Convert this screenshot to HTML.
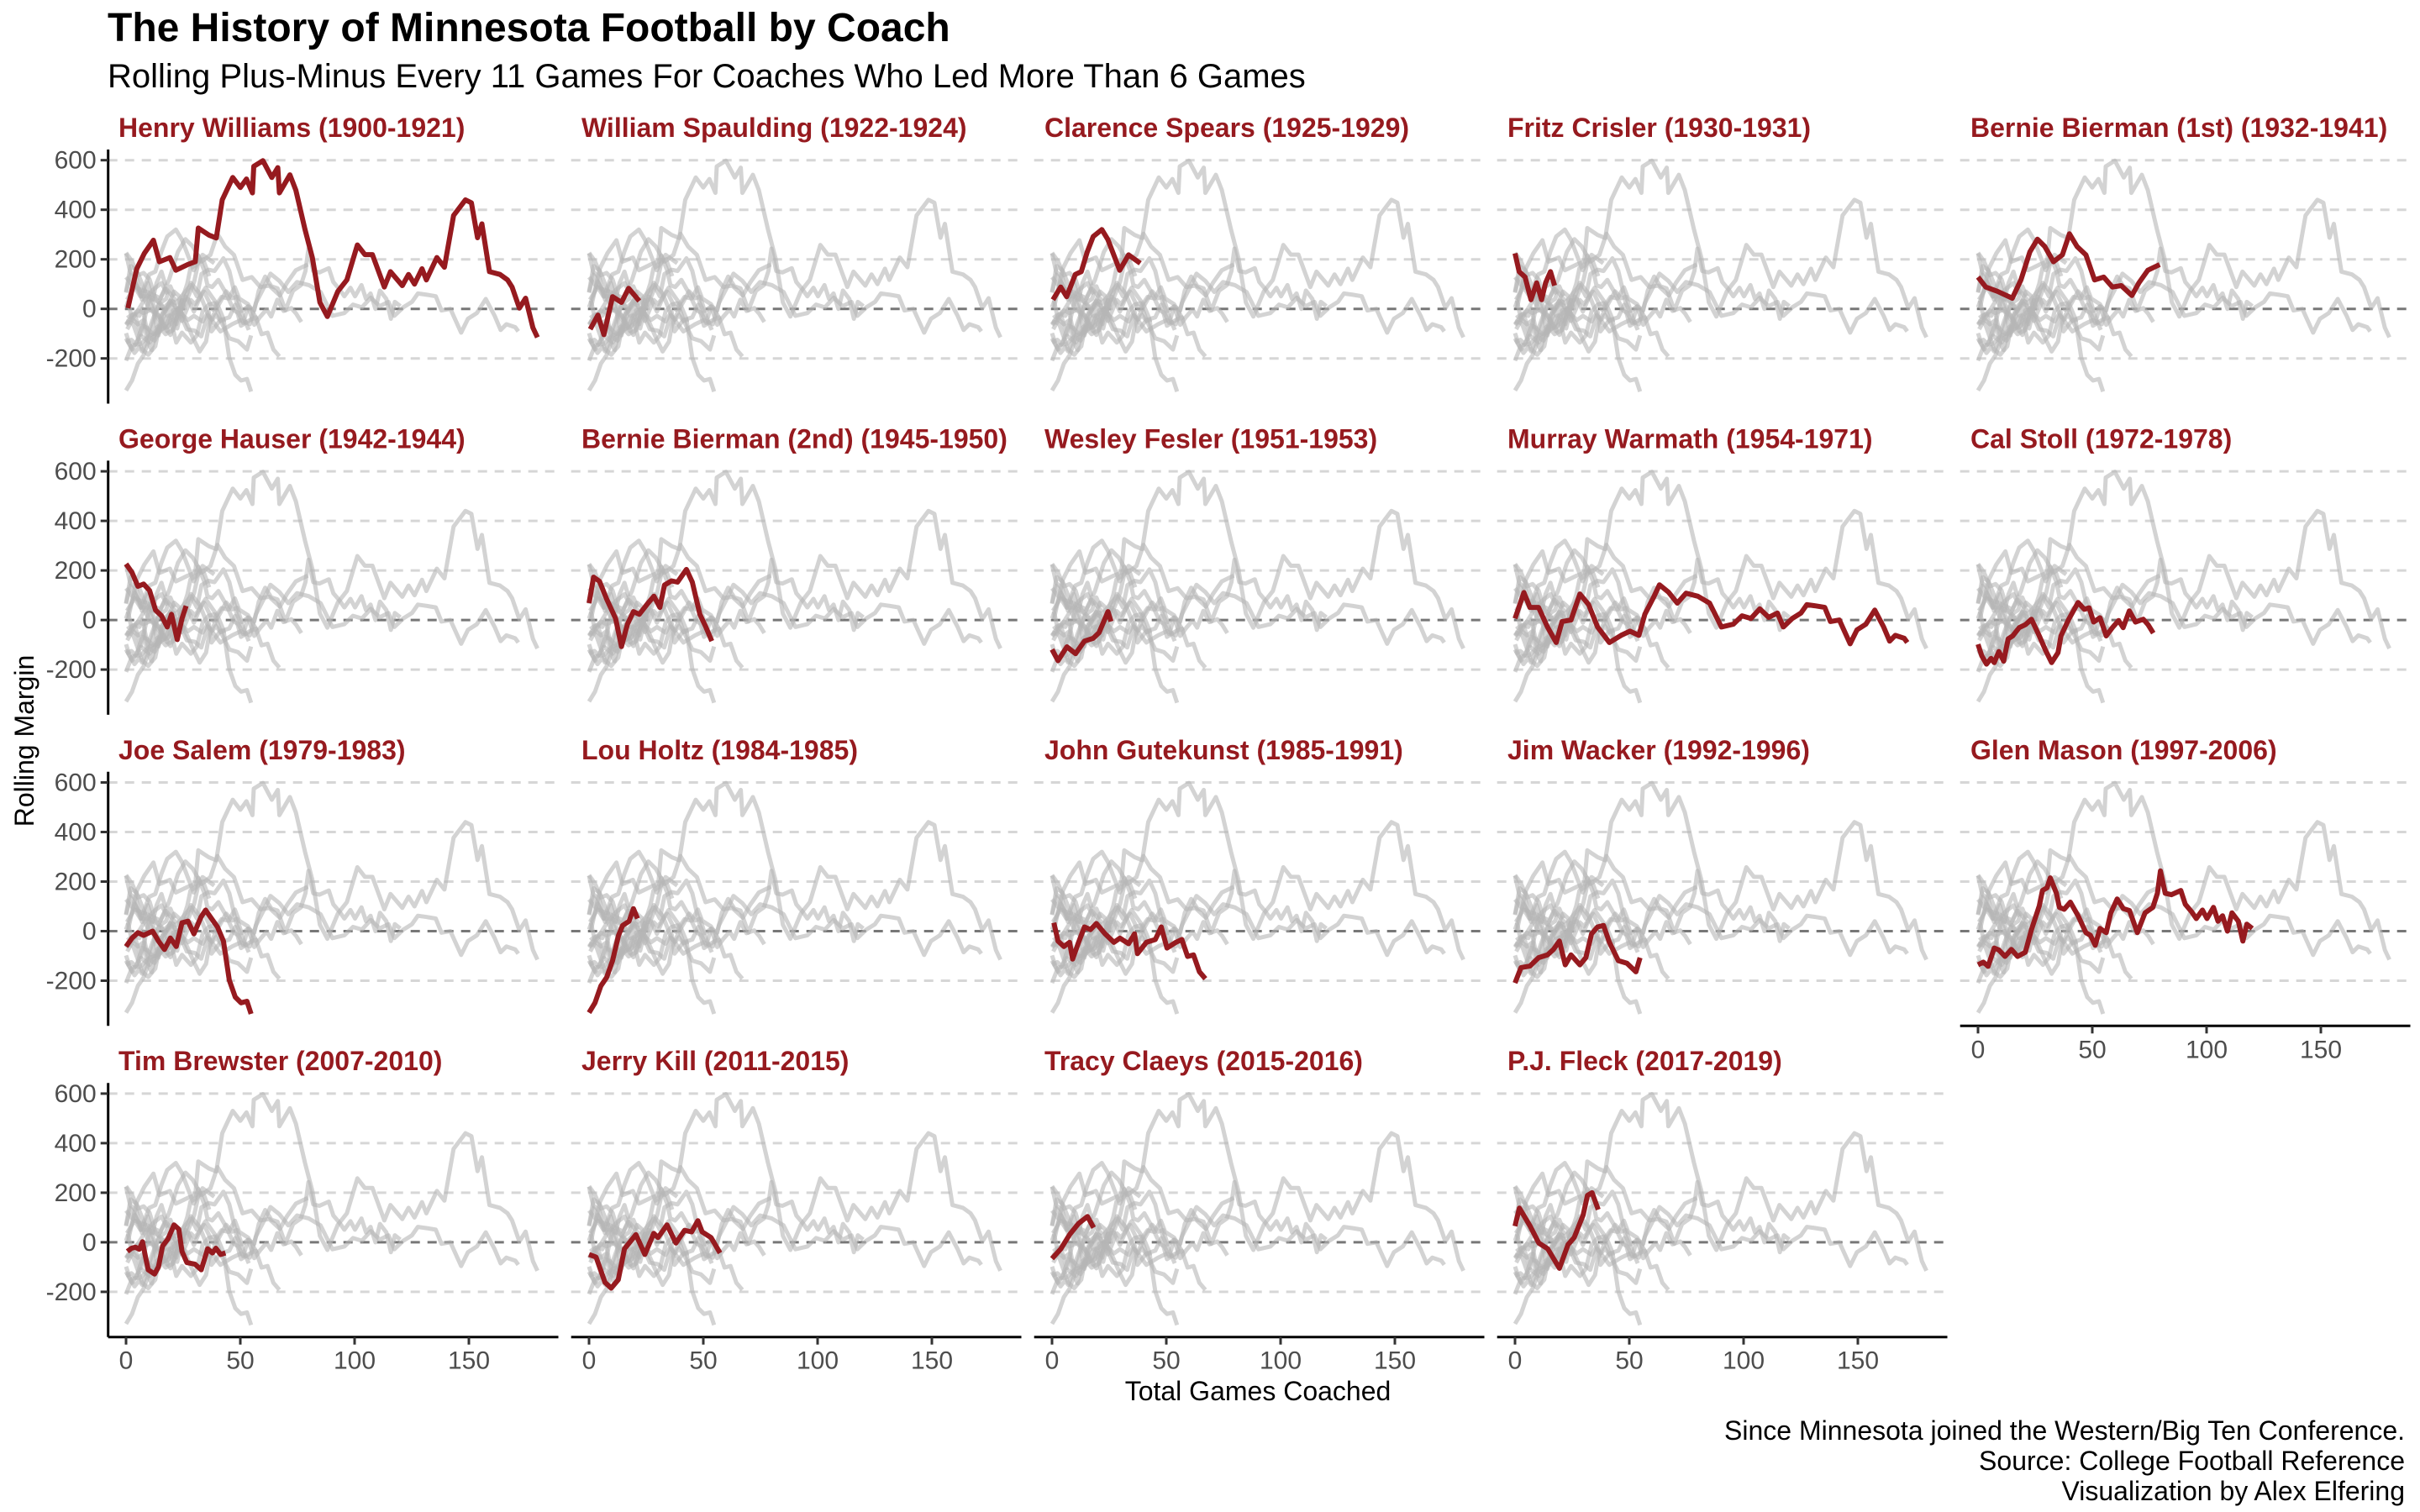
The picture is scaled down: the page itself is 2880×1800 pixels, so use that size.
<!DOCTYPE html>
<html><head><meta charset="utf-8"><title>The History of Minnesota Football by Coach</title>
<style>
html,body{margin:0;padding:0;background:#fff;}
svg{display:block;font-family:"Liberation Sans",Arial,sans-serif;}
</style></head>
<body>
<svg id="chart" width="2880" height="1800" viewBox="0 0 2880 1800" xmlns="http://www.w3.org/2000/svg">
<text x="128" y="49" font-size="48" font-weight="bold" fill="#000">The History of Minnesota Football by Coach</text>
<text x="128" y="104" font-size="40" fill="#000">Rolling Plus-Minus Every 11 Games For Coaches Who Led More Than 6 Games</text>
<text transform="translate(40,882) rotate(-90)" text-anchor="middle" font-size="32" fill="#000">Rolling Margin</text>
<text x="1497" y="1667" text-anchor="middle" font-size="32" fill="#000">Total Games Coached</text>
<text x="2862" y="1714" text-anchor="end" font-size="32" fill="#000">Since Minnesota joined the Western/Big Ten Conference.</text>
<text x="2862" y="1750" text-anchor="end" font-size="32" fill="#000">Source: College Football Reference</text>
<text x="2862" y="1786" text-anchor="end" font-size="32" fill="#000">Visualization by Alex Elfering</text>
<g id="panels"></g>
</svg>
<script>
const coachLabels = ["Henry Williams (1900-1921)","William Spaulding (1922-1924)","Clarence Spears (1925-1929)","Fritz Crisler (1930-1931)","Bernie Bierman (1st) (1932-1941)","George Hauser (1942-1944)","Bernie Bierman (2nd) (1945-1950)","Wesley Fesler (1951-1953)","Murray Warmath (1954-1971)","Cal Stoll (1972-1978)","Joe Salem (1979-1983)","Lou Holtz (1984-1985)","John Gutekunst (1985-1991)","Jim Wacker (1992-1996)","Glen Mason (1997-2006)","Tim Brewster (2007-2010)","Jerry Kill (2011-2015)","Tracy Claeys (2015-2016)","P.J. Fleck (2017-2019)"];

const williamsGames = [0.8,4.7,8,12,14.6,19.2,21.8,27,30.3,31.6,36.2,39.5,42.1,46.7,50,52.7,55.3,55.9,59.9,63.8,66.4,67.1,71.7,74.3,78.3,81.5,84.8,88.1,92.7,96.6,101.2,104.5,107.8,113,115.7,120.9,123.6,126.2,129.5,131.4,136,139.3,143.3,148.5,151.1,153.8,155.7,159,163.6,166.9,168.9,172.1,174.8,178,180];
const williamsMargin = [3,162,224,277,190,207,156,179,190,326,298,286,440,530,490,524,468,575,598,530,570,468,541,479,320,207,26,-31,71,117,258,219,219,88,150,94,139,100,162,117,207,168,377,440,428,287,343,150,139,117,88,3,43,-76,-115];
const spauldingGames = [0.5,3.9,6.5,10.3,14.2,17.3,22];
const spauldingMargin = [-82,-25,-104,49,26,83,32];
const spearsGames = [0.4,3.8,6.4,10.2,12.8,15.4,18,21.8,24.4,29.6,33.5,38.6];
const spearsMargin = [37,88,49,139,150,230,292,320,280,156,218,184];
const crislerGames = [0,1.8,4.4,7,9.5,11.6,13.4,15.5,17.3];
const crislerMargin = [224,150,128,37,105,37,105,150,94];
const bierman1Games = [0,3.4,8.5,15,18.8,22.7,26,29.2,33,36.9,40,43.3,47.2,51,55,58.8,62.7,67.3,70.4,74.3,79.5];
const bierman1Margin = [128,88,71,43,117,230,281,252,190,218,303,252,218,117,128,88,94,54,105,156,179];
const hauserGames = [0,2.6,5.2,7.7,10.3,12.9,15.5,18,19.9,22.4,24.5,26.3];
const hauserMargin = [226,192,136,145,119,40,17,-28,23,-79,6,57];
const bierman2Games = [0,2,4.6,7.7,11.6,14.2,16.8,19.4,22,25.8,28.4,31,33,36.1,38.7,42.6,45.2,48.5,51.1,53.7];
const bierman2Margin = [68,173,156,85,6,-107,-17,34,23,68,96,51,141,158,153,204,153,23,-28,-85];
const feslerGames = [0,2.6,6.5,10.3,14.2,18,20.6,24.5,25.8];
const feslerMargin = [-119,-164,-108,-136,-85,-74,-51,34,-6];
const warmathGames = [0,3.9,6.5,10.3,14.2,18,20.6,24.5,28.4,32.2,36.1,41.3,46.4,50.3,54.2,56.8,60.6,63.2,67.1,71,74.8,80,85.1,90.3,95.5,99.3,103.2,107.1,111,114.8,117.4,121.3,125.1,127.7,131.6,135.5,138,141.9,146.6,149.6,153.5,157.4,161.3,163.9,166.4,170.3,171.6];
const warmathMargin = [6,111,51,51,-28,-91,-6,0,105,62,-28,-91,-62,-45,-62,23,91,142,113,68,108,96,68,-28,-17,17,6,45,11,28,-28,6,28,62,57,51,-6,0,-96,-40,-17,40,-28,-85,-62,-74,-91];
const stollGames = [0,1.6,3.7,5.7,7.1,9.1,11.2,13.2,15.2,18,20.7,23.4,26.8,29.5,32.2,35,36.3,39.7,43.8,46.5,48.6,50.6,53.4,56.1,58.8,61.5,63.5,66.2,68.9,72.3,74.4,76.7];
const stollMargin = [-98,-144,-178,-155,-172,-127,-166,-76,-64,-31,-19,3,-64,-121,-172,-132,-64,3,71,43,49,-8,9,-64,-31,-2,-31,37,-8,3,-19,-53];
const salemGames = [0,2.6,5.2,7.7,11.6,14.2,16.8,19.4,22,24.5,27.1,29.7,32.8,34.8,37.4,40,42.6,45.2,47.8,50.3,52.9,54.7];
const salemMargin = [-62,-28,-6,-17,0,-40,-74,-28,-62,34,40,-11,57,85,51,17,-40,-198,-266,-289,-283,-334];
const holtzGames = [0,2.6,5.2,7.7,10.3,12.9,14.7,17.5,19.4,21.2];
const holtzMargin = [-329,-289,-221,-187,-119,-17,23,40,91,51];
const gutekunstGames = [0.8,2.6,5.2,7.7,9,11.6,14.2,16.8,19.4,23.2,27.1,29.7,33.5,36.1,37.4,41.3,45.2,47.8,50.3,54.2,56.8,59.3,61.9,64.5,67.1];
const gutekunstMargin = [34,-40,-62,-45,-113,-45,17,6,31,-11,-45,-28,-51,-11,-91,-45,-34,17,-68,-45,-34,-102,-96,-164,-192];
const wackerGames = [0,2.6,6.5,10.3,14.2,16.8,19.4,22,24.5,28.4,31,33.5,36.1,38.7,41.3,45.2,49,52.9,54.7];
const wackerMargin = [-209,-147,-141,-107,-96,-74,-40,-136,-96,-136,-107,-11,17,23,-45,-119,-130,-164,-107];
const masonGames = [0,2.3,4.4,7.1,9.1,11.8,14.6,17.3,20.7,23.4,26.8,28.2,30.2,31.6,34.3,35.6,37.7,40.4,43.8,47.2,49.2,51.3,53.4,56.1,58.1,60.9,63.6,66.3,69.7,73.1,76.5,78.5,79.8,81.9,84.6,88.7,90.7,93.4,95.5,98.2,100.2,103,105,107,109.1,111.1,113.9,115.9,117.6,120];
const masonMargin = [-136,-125,-142,-68,-76,-102,-74,-102,-85,6,102,164,175,215,153,96,88,117,62,-6,-17,-57,11,-6,74,130,91,83,-6,74,96,153,243,153,147,164,108,79,51,85,51,96,40,62,0,74,40,-40,28,11];
const brewsterGames = [0.6,2.4,4.1,5.8,7.2,8.3,9.7,12.5,14.2,16,18.4,21,23.1,24.5,26.6,30.1,32.9,35.7,37.8,39.3,41.4,43.5];
const brewsterMargin = [-37,-24,-20,-28,2,-49,-111,-128,-99,-15,14,70,53,-37,-82,-88,-111,-26,-43,-24,-49,-43];
const killGames = [0,3.1,7,9.7,12.8,15.5,20.5,24.4,28.3,30.2,34.1,38,41.8,44.9,47.6,49.5,53.4,57.3];
const killMargin = [-49,-60,-162,-185,-151,-26,31,-49,36,19,70,-3,48,42,87,42,19,-43];
const claeysGames = [0,3.9,7.7,11.6,15.5,18.2];
const claeysMargin = [-66,-26,31,76,104,59];
const fleckGames = [0,1.9,6.6,10.4,14.3,19.4,23.2,25.9,29.8,31.7,33.7,36.4];
const fleckMargin = [65,138,65,-3,-26,-105,-9,19,110,189,200,132];

const yTicks = [-200,0,200,400,600];
const xTicks = [0,50,100,150];

const allGames = [williamsGames,spauldingGames,spearsGames,crislerGames,bierman1Games,hauserGames,bierman2Games,feslerGames,warmathGames,stollGames,salemGames,holtzGames,gutekunstGames,wackerGames,masonGames,brewsterGames,killGames,claeysGames,fleckGames];
const allMargins = [williamsMargin,spauldingMargin,spearsMargin,crislerMargin,bierman1Margin,hauserMargin,bierman2Margin,feslerMargin,warmathMargin,stollMargin,salemMargin,holtzMargin,gutekunstMargin,wackerMargin,masonMargin,brewsterMargin,killMargin,claeysMargin,fleckMargin];

const NS = "http://www.w3.org/2000/svg";
const root = document.getElementById('panels');
const COL_STEP = 551, ROW_STEP = 370.4;
function xScale(g, col){ return 150 + COL_STEP*col + g*2.72; }
function yScale(v, row){ return 367.7 + ROW_STEP*row - v*0.295; }
function mk(tag, attrs, parent){
  const e = document.createElementNS(NS, tag);
  for (const k in attrs) e.setAttribute(k, attrs[k]);
  parent.appendChild(e);
  return e;
}
function pathFor(gs, vs, col, row){
  let d = "";
  for (let i=0;i<gs.length;i++){
    d += (i?"L":"M") + xScale(gs[i],col).toFixed(1) + "," + yScale(vs[i],row).toFixed(1);
  }
  return d;
}

coachLabels.forEach((label, idx) => {
  const col = idx % 5, row = Math.floor(idx / 5);
  const left = 128.7 + COL_STEP*col, right = 664.5 + COL_STEP*col;
  const top = 178 + ROW_STEP*row, bottom = 480.5 + ROW_STEP*row;
  const g = mk('g', {}, root);
  
  

  const strip = mk('text', {x: 141 + COL_STEP*col, y: 163 + ROW_STEP*row, 'font-size': 32, 'font-weight': 'bold', fill: '#961a1f'}, g);
  
  
  strip.textContent = label;

  yTicks.forEach(t => {
    const y = yScale(t, row);
    const gl = mk('line', {x1: left, x2: right, y1: y, y2: y, stroke: t===0 ? '#777' : '#d6d6d6', 'stroke-width': 3, 'stroke-dasharray': '11,9'}, g);
    
    
  });

  allGames.forEach((gs, j) => {
    const p = mk('path', {d: pathFor(gs, allMargins[j], col, row), fill: 'none', stroke: '#b5b5b5', 'stroke-opacity': 0.6, 'stroke-width': 5, 'stroke-linejoin': 'round'}, g);
    
    
  });
  const red = mk('path', {d: pathFor(allGames[idx], allMargins[idx], col, row), fill: 'none', stroke: '#961a1f', 'stroke-width': 6, 'stroke-linejoin': 'round'}, g);
  
  

  if (col === 0){
    const ax = mk('line', {x1: left, x2: left, y1: top, y2: bottom, stroke: '#000', 'stroke-width': 3}, g);
    
    
    yTicks.forEach(t => {
      const y = yScale(t, row);
      const tk = mk('line', {x1: left-9, x2: left, y1: y, y2: y, stroke: '#333', 'stroke-width': 3}, g);
      
      
      const tl = mk('text', {x: left-14, y: y+10, 'text-anchor': 'end', 'font-size': 30, fill: '#4d4d4d'}, g);
      
      
      tl.textContent = t;
    });
  }
  const hasX = (row === 3) || (row === 2 && col === 4);
  if (hasX){
    const ax = mk('line', {x1: left, x2: right, y1: bottom, y2: bottom, stroke: '#000', 'stroke-width': 3}, g);
    
    
    xTicks.forEach(t => {
      const x = xScale(t, col);
      const tk = mk('line', {x1: x, x2: x, y1: bottom, y2: bottom+9, stroke: '#333', 'stroke-width': 3}, g);
      
      
      const tl = mk('text', {x: x, y: bottom+38, 'text-anchor': 'middle', 'font-size': 30, fill: '#4d4d4d'}, g);
      
      
      tl.textContent = t;
    });
  }
});
</script>
</body></html>
